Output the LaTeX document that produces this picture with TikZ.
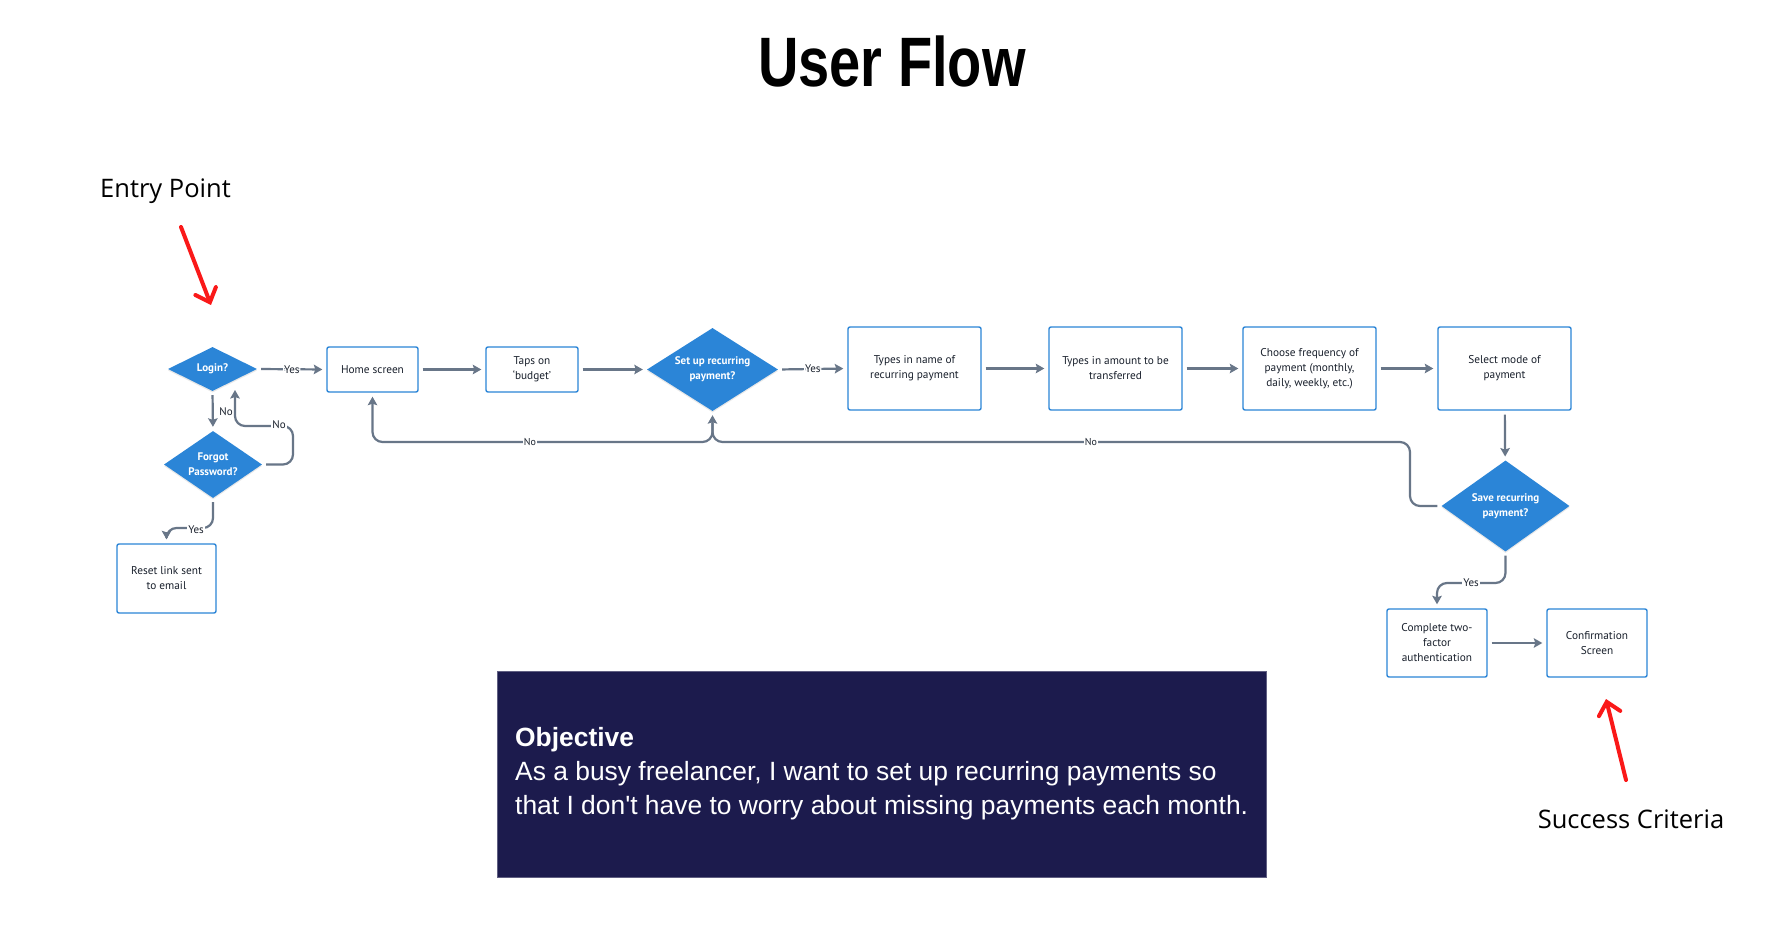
\documentclass[tikz,border=0pt]{standalone}
\usepackage{fontspec}
\setmainfont{PT Sans}
\newfontfamily\titlefont{Liberation Sans}
\newfontfamily\objfont{Liberation Sans}
\newfontfamily\notefont{Open Sans}
\usetikzlibrary{shapes.geometric,arrows.meta,shadows}
\definecolor{dblue}{RGB}{43,133,215}
\definecolor{conn}{RGB}{104,118,136}
\definecolor{txt}{RGB}{25,32,44}
\definecolor{navy}{RGB}{28,27,77}
\definecolor{redarrow}{RGB}{250,25,25}
\tikzset{
  box/.style={draw=dblue, line width=1.4pt, rounded corners=2pt, fill=white, inner sep=0pt, align=center, font=\fontsize{11.3}{15}\selectfont, text=txt},
  dia/.style={shape=diamond, fill=dblue, inner sep=0pt, draw=none, drop shadow={opacity=0.18, shadow xshift=0pt, shadow yshift=-1.5pt}},
  diatext/.style={font=\bfseries\fontsize{11}{15}\selectfont, text=white, align=center},
  flow/.style={draw=conn, line width=2.2pt, -{Stealth[length=8.5pt,width=9.5pt,inset=1.5pt]}, shorten >=4pt, shorten <=4pt, rounded corners=10pt},
  lbl/.style={fill=white, text=txt, font=\fontsize{11}{12}\selectfont, inner sep=1pt},
  redarr/.style={draw=redarrow, line width=4pt, line cap=round, -{Straight Barb[length=12pt,width=22pt,line cap=round]}},
  note/.style={font=\notefont\fontsize{25.5}{30}\selectfont, text=black, anchor=base}
}
\begin{document}
\begin{tikzpicture}[x=1pt,y=-1pt]
\useasboundingbox[fill=white] (0,0) rectangle (1782,952);
% title
\node[anchor=base, font=\titlefont\bfseries\fontsize{70}{80}\selectfont] (title) at (892,87) {\scalebox{0.8}[1]{User Flow}};
% annotations
\node[note] (entry) at (165.5,198) {Entry Point};
\node[note] (success) at (1631,828) {Success Criteria};
\coordinate (ea1) at (181,227);
\coordinate (ea2) at (211,305);
\coordinate (sa1) at (1626,780);
\coordinate (sa2) at (1606,699);
\draw[redarr] (ea1) -- (ea2);
\draw[redarr] (sa1) -- (sa2);
% diamonds
\node[dia, minimum width=89pt, minimum height=44pt, label={[diatext]center:Login?}] (login) at (212.5,369) {};
\node[dia, minimum width=98pt, minimum height=67pt, label={[diatext]center:Forgot\\Password?}] (forgot) at (213,464.5) {};
\node[dia, minimum width=131pt, minimum height=83pt, label={[diatext]center:Set up recurring\\payment?}] (setup) at (712.5,369.5) {};
\node[dia, minimum width=128pt, minimum height=91pt, label={[diatext]center:Save recurring\\payment?}] (save) at (1505.5,506) {};
% boxes
\node[box, minimum width=91pt, minimum height=45pt] (home) at (372.5,369.5) {Home screen};
\node[box, minimum width=92pt, minimum height=45pt] (taps) at (532,369.5) {Taps on\\`budget'};
\node[box, minimum width=99pt, minimum height=69pt] (reset) at (166.5,578.5) {Reset link sent\\to email};
\node[box, minimum width=133pt, minimum height=83pt] (name) at (914.5,368.5) {Types in name of\\recurring payment};
\node[box, minimum width=133pt, minimum height=83pt] (amount) at (1115.5,368.5) {Types in amount to be\\transferred};
\node[box, minimum width=133pt, minimum height=83pt] (freq) at (1309.5,368.5) {Choose frequency of\\payment (monthly,\\daily, weekly, etc.)};
\node[box, minimum width=133pt, minimum height=83pt] (mode) at (1504.5,368.5) {Select mode of\\payment};
\node[box, minimum width=100pt, minimum height=68pt] (twofa) at (1437,643) {Complete two-\\factor\\authentication};
\node[box, minimum width=100pt, minimum height=68pt] (confirm) at (1597,643) {Confirmation\\Screen};
% connectors
\draw[flow] (login.east) -- node[lbl] {Yes} (home.west);
\draw[flow] (home) -- (taps);
\draw[flow] (taps) -- (setup);
\draw[flow] (setup.east) -- node[lbl] {Yes} (name.west);
\draw[flow] (name) -- (amount);
\draw[flow] (amount) -- (freq);
\draw[flow] (freq) -- (mode);
\draw[flow] (mode) -- (save);
\draw[flow] (save.south) -- (1505.5,583) -- (1437,583) -- (twofa.north);
\draw[flow] (twofa) -- (confirm);
\draw[flow] (login.south) -- (forgot.north);
\coordinate (lgin) at (235,386);
\draw[flow] (forgot.east) -- (293,464.5) -- (293,426) -- (235,426) -- (lgin);
\draw[flow] (forgot.south) -- (213,528) -- (166.5,528) -- (reset.north);
\draw[flow, shorten <=12pt] (setup.south) -- (712.5,442) -- (372.5,442) -- (home.south);
\draw[flow] (save.west) -- (1410,506) -- (1410,442) -- (712.5,442) -- (setup.south);
% connector labels
\node[lbl] at (1471,583) {Yes};
\node[lbl] at (196,530) {Yes};
\node[lbl, fill=none] at (226,412) {No};
\node[lbl] at (279,425) {No};
\node[lbl, font=\fontsize{10}{11}\selectfont] at (530,442) {No};
\node[lbl, font=\fontsize{10}{11}\selectfont] at (1091,442) {No};
% objective
\node[fill=navy, draw=navy!70!white, line width=0.6pt, minimum width=769pt, minimum height=206pt, inner sep=0pt] (objbox) at (881.5,774) {};
\node[anchor=west, align=left, text=white, font=\objfont\fontsize{26.4}{34}\selectfont, inner sep=0pt] (objtext) at (515,774) {{\bfseries Objective}\\As a busy freelancer, I want to set up recurring payments so\\that I don't have to worry about missing payments each month.};
\end{tikzpicture}
\end{document}
